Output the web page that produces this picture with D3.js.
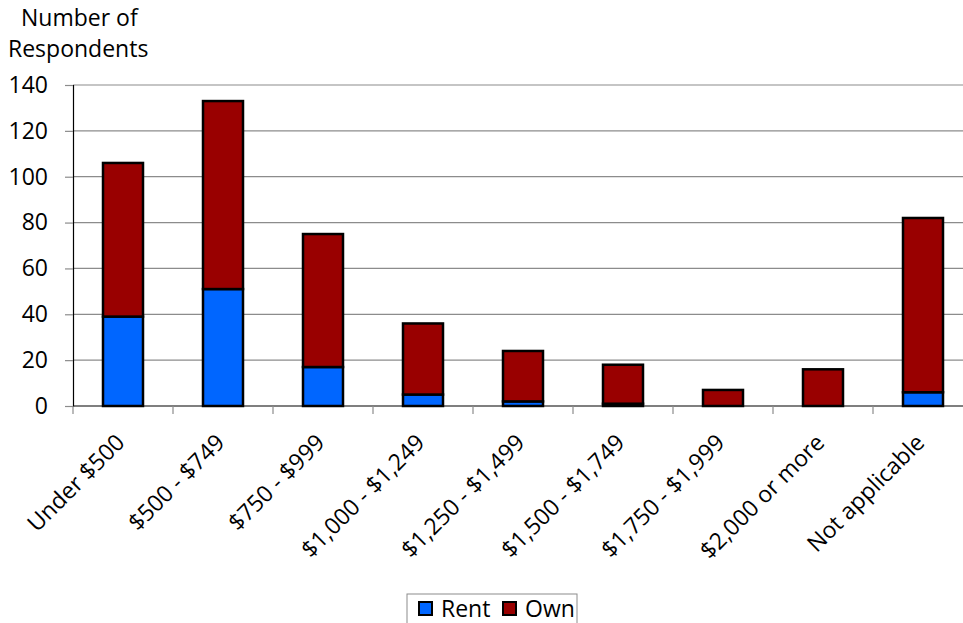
<!DOCTYPE html>
<html>
<head>
<meta charset="utf-8">
<script src="https://cdn.jsdelivr.net/npm/d3@7/dist/d3.min.js"></script>
<style>
  html, body { margin: 0; padding: 0; background: #fff; }
  svg { display: block; font-family: "Open Sans", sans-serif; }
</style>
</head>
<body>
<svg id="chart" width="963" height="623"></svg>
<script>
// Monthly housing cost categories and respondent counts
const categories = ["Under $500", "$500 - $749", "$750 - $999", "$1,000 - $1,249",
  "$1,250 - $1,499", "$1,500 - $1,749", "$1,750 - $1,999", "$2,000 or more", "Not applicable"];
const rent = [39, 51, 17, 5, 2, 1, 0, 0, 6];
const own  = [67, 82, 58, 31, 22, 17, 7, 16, 76];
const seriesNames = ["Rent", "Own"];
const seriesColors = ["#0066ff", "#990000"];
const yTicks = [0, 20, 40, 60, 80, 100, 120, 140];

const FONT = 23;
const svg = d3.select("#chart");
const margin = { left: 73, top: 85, bottom: 217 };
const plotW = 900;
const plotH = 623 - margin.top - margin.bottom;

const x = d3.scaleBand().domain(categories).range([margin.left, margin.left + plotW]).paddingInner(0.6).paddingOuter(0.3);
const xOuter = d3.scaleBand().domain(categories).range([margin.left, margin.left + plotW]);
const y = d3.scaleLinear().domain([0, 140]).range([margin.top + plotH, margin.top]);

const rows = categories.map((c, i) => ({ cat: c, Rent: rent[i], Own: own[i] }));
const stacked = d3.stack().keys(seriesNames)(rows);

// gridlines
svg.append("g")
  .selectAll("line").data(yTicks.slice(1)).join("line")
  .attr("x1", margin.left).attr("x2", 963)
  .attr("y1", d => y(d)).attr("y2", d => y(d))
  .attr("stroke", "#8c8c8c").attr("stroke-width", 1.2);

// y axis
const yAxis = svg.append("g")
  .attr("transform", `translate(${margin.left},0)`)
  .call(d3.axisLeft(y).tickValues(yTicks).tickSize(8).tickPadding(17));
yAxis.select(".domain").attr("stroke", "#000").attr("stroke-width", 1.2);
yAxis.selectAll(".tick line").attr("stroke", "#8c8c8c").attr("stroke-width", 1.2);
yAxis.selectAll("text").attr("font-size", FONT).attr("fill", "#000")
  .attr("font-family", "Open Sans, sans-serif");

// x axis baseline and category ticks
const baseY = y(0);
svg.append("line").attr("x1", margin.left).attr("x2", 963)
  .attr("y1", baseY).attr("y2", baseY).attr("stroke", "#000").attr("stroke-width", 1.2);
svg.append("g").selectAll("line").data(categories).join("line")
  .attr("x1", d => xOuter(d)).attr("x2", d => xOuter(d))
  .attr("y1", baseY).attr("y2", baseY + 8)
  .attr("stroke", "#8c8c8c").attr("stroke-width", 1.2);

// stacked bars
svg.append("g").selectAll("g").data(stacked).join("g")
  .attr("fill", (d, i) => seriesColors[i])
  .selectAll("rect").data(d => d.filter(p => p[1] - p[0] > 0)).join("rect")
  .attr("x", d => x(d.data.cat))
  .attr("width", x.bandwidth())
  .attr("y", d => y(d[1]))
  .attr("height", d => y(d[0]) - y(d[1]))
  .attr("stroke", "#000").attr("stroke-width", 2.5);

// category labels, rotated
svg.append("g").selectAll("text").data(categories).join("text")
  .attr("transform", d => `translate(${xOuter(d) + xOuter.bandwidth() / 2 + 3},${baseY + 38}) rotate(-45)`)
  .attr("text-anchor", "end")
  .attr("font-size", FONT)
  .attr("fill", "#000")
  .text(d => d);

// y axis title
const title = svg.append("text").attr("font-size", FONT).attr("fill", "#000");
title.append("tspan").attr("x", 21).attr("y", 26).text("Number of");
title.append("tspan").attr("x", 8).attr("y", 57).text("Respondents");

// legend
const legend = svg.append("g").attr("transform", "translate(407,594)");
legend.append("rect").attr("width", 170).attr("height", 32)
  .attr("fill", "#fff").attr("stroke", "#8c8c8c").attr("stroke-width", 1);
const items = legend.selectAll("g").data(seriesNames).join("g")
  .attr("transform", (d, i) => `translate(${12 + i * 84},0)`);
items.append("rect").attr("y", 8).attr("width", 13).attr("height", 13)
  .attr("fill", (d, i) => seriesColors[i]).attr("stroke", "#000").attr("stroke-width", 2);
items.append("text").attr("x", 22).attr("y", 23).attr("font-size", FONT).attr("fill", "#000").text(d => d);
</script>
</body>
</html>
